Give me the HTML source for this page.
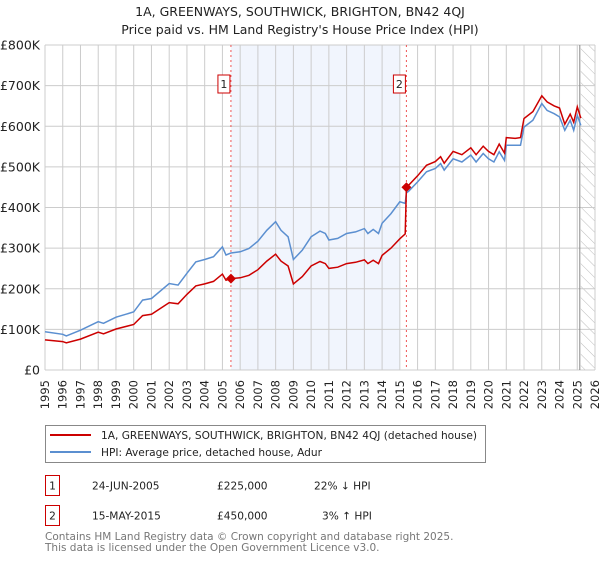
<!DOCTYPE html>
<html><head><meta charset="utf-8"><style>
body{margin:0;width:600px;height:560px;background:#fff;font-family:"Liberation Sans","DejaVu Sans",sans-serif;overflow:hidden}
svg text{font-family:"DejaVu Sans","Liberation Sans",sans-serif}
</style></head><body>
<svg id="chart" width="600" height="560" xmlns="http://www.w3.org/2000/svg">
<defs><pattern id="hatch" width="8" height="8" patternUnits="userSpaceOnUse" patternTransform="rotate(-45)"><line x1="0" y1="0" x2="0" y2="8" stroke="#bbb" stroke-width="1"/></pattern></defs>
<text x="300" y="16" text-anchor="middle" font-size="12.5" fill="#222">1A, GREENWAYS, SOUTHWICK, BRIGHTON, BN42 4QJ</text>
<text x="300" y="34" text-anchor="middle" font-size="12.5" fill="#222">Price paid vs. HM Land Registry's House Price Index (HPI)</text>
<g id="grid"></g><g id="marks"></g>
<g>
<rect x="45.5" y="425.5" width="440" height="37" fill="#fff" stroke="#888"/>
<line x1="50" y1="435" x2="91" y2="435" stroke="#cc0000" stroke-width="2"/>
<text x="101" y="439" font-size="10.6" fill="#222">1A, GREENWAYS, SOUTHWICK, BRIGHTON, BN42 4QJ (detached house)</text>
<line x1="50" y1="452" x2="91" y2="452" stroke="#5b8fd0" stroke-width="2"/>
<text x="101" y="456" font-size="10.6" fill="#222">HPI: Average price, detached house, Adur</text>
</g>
<g font-size="10.6" fill="#222">
<rect x="45.5" y="475.5" width="14" height="20" fill="#fff" stroke="#cc0000"/><text x="52.5" y="489.5" text-anchor="middle">1</text>
<text x="92" y="489.5">24-JUN-2005</text><text x="217" y="489.5">£225,000</text><text x="314" y="489.5">22% ↓ HPI</text>
</g>
<g font-size="10.6" fill="#222">
<rect x="45.5" y="505.5" width="14" height="20" fill="#fff" stroke="#cc0000"/><text x="52.5" y="519.5" text-anchor="middle">2</text>
<text x="92" y="519.5">15-MAY-2015</text><text x="217" y="519.5">£450,000</text><text x="322" y="519.5">3% ↑ HPI</text>
</g>
<text x="45" y="540" font-size="10.5" fill="#777">Contains HM Land Registry data © Crown copyright and database right 2025.</text>
<text x="45" y="551" font-size="10.5" fill="#777">This data is licensed under the Open Government Licence v3.0.</text>
</svg>
<script>
const dates=[1995.0,1996.0,1996.2,1997.0,1998.0,1998.3,1999.0,2000.0,2000.5,2001.0,2002.0,2002.5,2003.0,2003.5,2004.0,2004.5,2005.0,2005.2,2005.48,2006.0,2006.5,2007.0,2007.5,2008.0,2008.3,2008.7,2009.0,2009.5,2010.0,2010.5,2010.8,2011.0,2011.5,2012.0,2012.5,2013.0,2013.2,2013.5,2013.8,2014.0,2014.5,2015.0,2015.3,2015.37,2015.5,2016.0,2016.5,2017.0,2017.3,2017.5,2018.0,2018.5,2019.0,2019.3,2019.7,2020.0,2020.3,2020.6,2020.9,2021.0,2021.5,2021.8,2022.0,2022.5,2023.0,2023.3,2023.7,2024.0,2024.3,2024.6,2024.8,2025.0,2025.2];
const hpiValues=[94,88,84,98,119,115,130,143,172,176,213,209,238,266,272,279,303,283,288,291,299,317,344,365,344,328,272,295,328,342,336,320,324,336,340,348,336,346,336,361,385,414,410,436,440,463,488,496,508,492,520,512,529,512,533,520,512,537,516,553,553,553,598,615,656,639,631,623,590,615,590,627,602];
const priceValues=[74,70,67,76,93,89,101,112,134,137,166,163,186,207,212,218,236,221,225,227,233,247,268,285,268,256,212,230,256,267,262,250,253,262,265,271,262,270,262,282,300,323,335,450,455,478,504,513,525,509,538,530,547,530,551,538,530,556,534,572,570,572,619,636,675,660,650,645,605,630,610,648,620];
const saleDates=[2005.48,2015.37];
const salePrices=[225,450];
const saleLabels=["1","2"];
const yTicks=[0,100,200,300,400,500,600,700,800];
const yTickLabels=["£0","£100K","£200K","£300K","£400K","£500K","£600K","£700K","£800K"];
const xYears=[];for(let y=1995;y<=2026;y++)xYears.push(y);
const X0=45,X1=595,Y0=370,Y1=45;
const xs=t=>X0+(t-1995)/31*(X1-X0);
const ys=v=>Y0-v/800*(Y0-Y1);
const NS="http://www.w3.org/2000/svg";
const grid=document.getElementById('grid'),marks=document.getElementById('marks');
function mk(tag,attrs,parent){const e=document.createElementNS(NS,tag);for(const k in attrs)e.setAttribute(k,attrs[k]);parent.appendChild(e);return e;}
let band=mk('rect',{x:xs(2005.48),y:Y1,width:xs(2015.0)-xs(2005.48),height:Y0-Y1,fill:'#eef3fc',opacity:0.8},grid);


let hat=mk('rect',{x:xs(2025.2),y:Y1,width:X1-xs(2025.2),height:Y0-Y1,fill:'url(#hatch)'},grid);


xYears.forEach(y=>{
 const l=mk('line',{x1:xs(y),x2:xs(y),y1:Y1,y2:Y0,stroke:'#ccc','stroke-width':1},grid);
 
 
 const t=mk('text',{x:0,y:0,'font-size':11.5,fill:'#222','text-anchor':'end',transform:`translate(${xs(y)+4},${Y0+10}) rotate(-90)`},grid);
 t.textContent=y;
 
 
});
yTicks.forEach((v,i)=>{
 const l=mk('line',{x1:X0,x2:X1,y1:ys(v),y2:ys(v),stroke:'#ccc','stroke-width':1},grid);
 
 
 const t=mk('text',{x:40,y:ys(v)+4.5,'font-size':12.5,fill:'#222','text-anchor':'end'},grid);
 t.textContent=yTickLabels[i];
 
 
});
let dl=mk('line',{x1:xs(2025.2)-1,x2:xs(2025.2)-1,y1:Y1,y2:Y0,stroke:'#888','stroke-width':1},grid);


saleDates.forEach((d,i)=>{
 const l=mk('line',{x1:xs(d),x2:xs(d),y1:Y1,y2:Y0,stroke:'#e55','stroke-width':1,'stroke-dasharray':'2,3'},marks);
 
 
 const r=mk('rect',{x:xs(d)-13,y:75,width:12,height:18,fill:'#fff',stroke:'#cc0000'},marks);
 
 
 const t=mk('text',{x:xs(d)-7,y:88,'font-size':11,fill:'#222','text-anchor':'middle'},marks);
 t.textContent=saleLabels[i];
 
 
});
const pts=a=>a.map((v,i)=>xs(dates[i]).toFixed(1)+','+ys(v).toFixed(1)).join(' ');
let hp=mk('polyline',{points:pts(hpiValues),fill:'none',stroke:'#5b8fd0','stroke-width':1.5},marks);


let pp=mk('polyline',{points:pts(priceValues),fill:'none',stroke:'#cc0000','stroke-width':1.5},marks);


saleDates.forEach((d,i)=>{
 const cx=xs(d),cy=ys(salePrices[i]);
 const p=mk('polygon',{points:`${cx},${cy-5} ${cx+5},${cy} ${cx},${cy+5} ${cx-5},${cy}`,fill:'#cc0000'},marks);
 
 
});
</script>
</body></html>
